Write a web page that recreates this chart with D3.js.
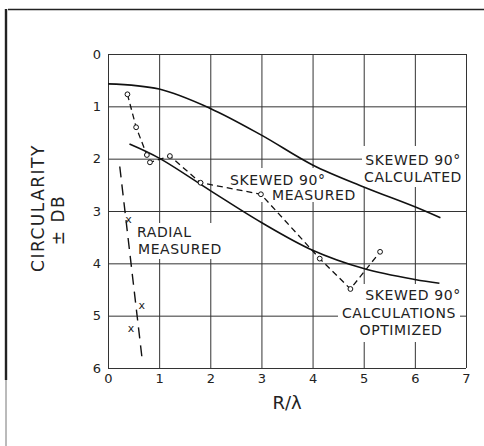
<!DOCTYPE html>
<html>
<head>
<meta charset="utf-8">
<script src="https://cdn.jsdelivr.net/npm/d3@7"></script>
<style>
  body { margin: 0; background: #fff; }
  text { font-family: "DejaVu Sans", sans-serif; fill: #222; }
</style>
</head>
<body>
<script>
// axis ticks
let xTicks = [0, 1, 2, 3, 4, 5, 6, 7];
let yTicks = [0, 1, 2, 3, 4, 5, 6];

// skewed 90 calculated (solid)
let calcX = [0, 1, 2, 3, 4, 5, 6, 6.5];
let calcY = [0.57, 0.67, 1.04, 1.55, 2.12, 2.54, 2.92, 3.13];

// skewed 90 calculations optimized (solid)
let optX = [0.42, 1, 2, 3, 4, 5, 6, 6.48];
let optY = [1.72, 1.99, 2.61, 3.22, 3.75, 4.10, 4.31, 4.38];

// skewed 90 measured (dashed, circles)
let measX = [0.38, 0.55, 0.76, 0.82, 1.21, 1.81, 2.99, 4.14, 4.74, 5.32];
let measY = [0.77, 1.40, 1.93, 2.07, 1.95, 2.46, 2.68, 3.91, 4.49, 3.78];

// radial measured (long dash line + x marks)
let radLineX = [0.23, 0.67];
let radLineY = [2.15, 5.85];
let radPtX = [0.40, 0.66, 0.45];
let radPtY = [3.16, 4.80, 5.24];

let width = 484;
let height = 446;
let svg = d3.select('body')
    .append('svg')
    .attr('width', width)
    .attr('height', height);

let x = d3.scaleLinear().domain([0, 7]).range([108, 466]);
let y = d3.scaleLinear().domain([0, 6]).range([54, 368]);

// scan edges of the page
svg.append('line')
    .attr('x1', 8).attr('x2', 484).attr('y1', 9.5).attr('y2', 9.5)
    .attr('stroke', '#222').attr('stroke-width', 1.6);
svg.append('line')
    .attr('x1', 6).attr('x2', 6).attr('y1', 9).attr('y2', 380)
    .attr('stroke', '#222').attr('stroke-width', 2.4);
svg.append('line')
    .attr('x1', 6).attr('x2', 6).attr('y1', 380).attr('y2', 446)
    .attr('stroke', '#777').attr('stroke-width', 1);

// grid
let xAxis = d3.axisBottom(x)
    .tickValues(xTicks)
    .tickSize(-(y(6) - y(0)))
    .tickPadding(6)
    .tickFormat(d3.format('d'));
let yAxis = d3.axisLeft(y)
    .tickValues(yTicks)
    .tickSize(-(x(7) - x(0)))
    .tickPadding(7)
    .tickFormat(d3.format('d'));

let gx = svg.append('g')
    .attr('transform', 'translate(0,' + y(6) + ')')
    .call(xAxis);
let gy = svg.append('g')
    .attr('transform', 'translate(' + x(0) + ',0)')
    .call(yAxis);

[gx, gy].forEach(function (g) {
    g.select('.domain').remove();
    g.selectAll('line').attr('stroke', '#333').attr('stroke-width', 1);
    g.selectAll('text')
        .style('font-family', '"DejaVu Sans", sans-serif')
        .style('font-size', '13px')
        .attr('fill', '#222');
});

// titles
svg.append('text')
    .attr('transform', 'translate(44,208) rotate(-90)')
    .attr('text-anchor', 'middle')
    .style('font-size', '17px')
    .style('letter-spacing', '1.5px')
    .text('CIRCULARITY');
svg.append('text')
    .attr('transform', 'translate(64,220) rotate(-90)')
    .attr('text-anchor', 'middle')
    .style('font-size', '17px')
    .style('letter-spacing', '1.5px')
    .text('± DB');
svg.append('text')
    .attr('x', 287).attr('y', 409)
    .attr('text-anchor', 'middle')
    .style('font-size', '18px')
    .text('R/λ');

// white boxes behind the labels, they break the grid
let boxes = [
    [362, 146, 466, 187],
    [227, 168, 357, 202],
    [134, 223, 223, 259],
    [338, 284, 460, 342]
];
boxes.forEach(function (b) {
    svg.append('rect')
        .attr('x', b[0]).attr('y', b[1])
        .attr('width', b[2] - b[0]).attr('height', b[3] - b[1])
        .attr('fill', '#fff');
});

function label(t, px, py, anchor) {
    svg.append('text')
        .attr('x', px).attr('y', py)
        .attr('text-anchor', anchor)
        .style('font-size', '14px')
        .style('letter-spacing', '0.6px')
        .text(t);
}
label('SKEWED 90°', 413, 165, 'middle');
label('CALCULATED', 413, 182, 'middle');
label('SKEWED 90°', 230, 185, 'start');
label('MEASURED', 272, 200, 'start');
label('RADIAL', 137, 237, 'start');
label('MEASURED', 138, 254, 'start');
label('SKEWED 90°', 413, 300, 'middle');
label('CALCULATIONS', 399, 318, 'middle');
label('OPTIMIZED', 401, 335, 'middle');

// curves
let line = d3.line()
    .x(function (d) { return x(d[0]); })
    .y(function (d) { return y(d[1]); });
let smooth = d3.line()
    .x(function (d) { return x(d[0]); })
    .y(function (d) { return y(d[1]); })
    .curve(d3.curveCatmullRom);

svg.append('path')
    .attr('d', smooth(d3.zip(calcX, calcY)))
    .attr('fill', 'none').attr('stroke', '#111').attr('stroke-width', 1.6);
svg.append('path')
    .attr('d', smooth(d3.zip(optX, optY)))
    .attr('fill', 'none').attr('stroke', '#111').attr('stroke-width', 1.6);

let meas = d3.zip(measX, measY);
svg.append('path')
    .attr('d', line(meas))
    .attr('fill', 'none').attr('stroke', '#111').attr('stroke-width', 1.3)
    .attr('stroke-dasharray', '6,4');
svg.selectAll('.meas')
    .data(meas)
    .enter()
    .append('circle')
    .attr('class', 'meas')
    .attr('cx', function (d) { return x(d[0]); })
    .attr('cy', function (d) { return y(d[1]); })
    .attr('r', 2.4)
    .attr('fill', '#fff').attr('stroke', '#111').attr('stroke-width', 1);

svg.append('path')
    .attr('d', line(d3.zip(radLineX, radLineY)))
    .attr('fill', 'none').attr('stroke', '#111').attr('stroke-width', 1.4)
    .attr('stroke-dasharray', '11,7');
svg.selectAll('.rad')
    .data(d3.zip(radPtX, radPtY))
    .enter()
    .append('text')
    .attr('class', 'rad')
    .attr('x', function (d) { return x(d[0]); })
    .attr('y', function (d) { return y(d[1]); })
    .attr('dy', '0.35em')
    .attr('text-anchor', 'middle')
    .style('font-size', '11px')
    .text('x');
</script>
</body>
</html>
